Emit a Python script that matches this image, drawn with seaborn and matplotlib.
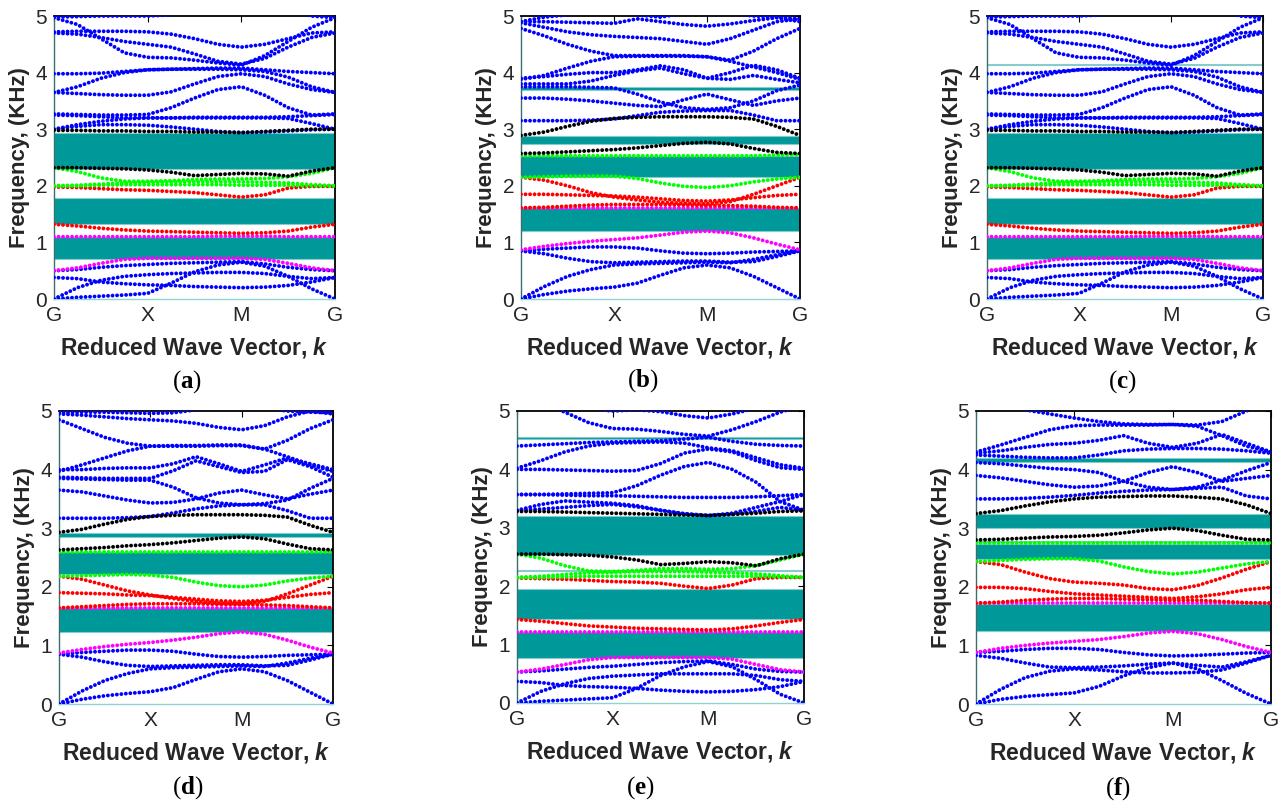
import matplotlib
matplotlib.use("Agg")
import matplotlib.pyplot as plt
import pandas as pd
import seaborn as sns

# ---------------- data ----------------
K = [0, 0.25, 0.5, 0.75, 1, 1.25, 1.5, 1.75, 2, 2.25, 2.5, 2.75, 3]
K_TICKS = [0, 1, 2, 3]
K_LABELS = ["G", "X", "M", "G"]
Y_TICKS = [0, 1, 2, 3, 4, 5]
PANEL_LABELS = ["a", "b", "c", "d", "e", "f"]

# ---- panel (a) / (c) ----
A_BLUE = [
    [0.00, 0.03, 0.05, 0.07, 0.10, 0.28, 0.48, 0.60, 0.65, 0.58, 0.40, 0.18, 0.00],
    [0.00, 0.20, 0.33, 0.40, 0.43, 0.45, 0.46, 0.47, 0.47, 0.45, 0.40, 0.36, 0.38],
    [0.38, 0.36, 0.30, 0.27, 0.25, 0.24, 0.22, 0.21, 0.20, 0.21, 0.24, 0.30, 0.38],
    [0.50, 0.52, 0.56, 0.59, 0.61, 0.63, 0.64, 0.65, 0.66, 0.62, 0.56, 0.52, 0.50],
    [3.00, 3.05, 3.08, 3.08, 3.07, 3.04, 3.00, 2.96, 2.94, 2.95, 2.97, 2.99, 3.00],
    [3.00, 3.08, 3.14, 3.18, 3.20, 3.20, 3.20, 3.20, 3.20, 3.20, 3.19, 3.10, 3.00],
    [3.27, 3.26, 3.25, 3.25, 3.26, 3.38, 3.55, 3.70, 3.75, 3.60, 3.38, 3.25, 3.27],
    [3.25, 3.24, 3.22, 3.20, 3.20, 3.20, 3.21, 3.21, 3.21, 3.21, 3.22, 3.24, 3.26],
    [3.65, 3.63, 3.61, 3.60, 3.60, 3.66, 3.80, 3.93, 3.98, 3.93, 3.80, 3.70, 3.65],
    [3.65, 3.75, 3.90, 4.00, 4.05, 4.06, 4.06, 4.06, 4.05, 4.02, 3.92, 3.75, 3.65],
    [3.98, 3.98, 3.99, 4.02, 4.05, 4.06, 4.07, 4.08, 4.08, 4.05, 4.02, 4.00, 3.98],
    [4.97, 4.85, 4.60, 4.35, 4.27, 4.26, 4.22, 4.17, 4.13, 4.30, 4.55, 4.80, 4.97],
    [4.70, 4.68, 4.62, 4.55, 4.50, 4.45, 4.33, 4.20, 4.15, 4.25, 4.45, 4.62, 4.70],
    [4.72, 4.73, 4.73, 4.73, 4.72, 4.68, 4.60, 4.50, 4.45, 4.50, 4.60, 4.70, 4.72],
    [4.98, 4.99, 5.00, 5.00, 5.00, 5.02, 5.10, 5.20, 5.25, 5.20, 5.10, 5.00, 4.97],
]
A_MAGENTA = [
    [0.50, 0.55, 0.63, 0.70, 0.72, 0.72, 0.72, 0.72, 0.72, 0.70, 0.63, 0.55, 0.50],
    [1.10, 1.10, 1.10, 1.10, 1.10, 1.10, 1.10, 1.11, 1.11, 1.11, 1.10, 1.10, 1.10],
]
A_RED = [
    [1.32, 1.29, 1.25, 1.22, 1.20, 1.19, 1.18, 1.17, 1.16, 1.17, 1.20, 1.27, 1.32],
    [1.98, 1.97, 1.95, 1.93, 1.92, 1.90, 1.88, 1.84, 1.80, 1.84, 1.96, 1.99, 1.99],
]
A_GREEN = [
    [2.00, 2.00, 2.01, 2.02, 2.02, 2.02, 2.02, 2.02, 2.01, 2.01, 2.01, 2.00, 2.00],
    [2.00, 2.01, 2.03, 2.05, 2.06, 2.07, 2.07, 2.07, 2.07, 2.06, 2.05, 2.02, 2.00],
    [2.32, 2.25, 2.14, 2.08, 2.08, 2.09, 2.11, 2.12, 2.12, 2.13, 2.16, 2.22, 2.32],
]
A_BLACK = [
    [2.32, 2.32, 2.31, 2.30, 2.28, 2.24, 2.18, 2.20, 2.22, 2.21, 2.17, 2.26, 2.32],
    [2.98, 2.98, 2.97, 2.97, 2.96, 2.96, 2.95, 2.95, 2.94, 2.96, 2.98, 3.00, 3.00],
]
A_GAPS = [(0.70, 1.10), (1.33, 1.79), (2.30, 2.93)]
C_GAPS = [(0.70, 1.10), (1.33, 1.79), (2.30, 2.93), (4.14, 4.16)]

# ---- panel (b) / (d) lower blue ----
B_BLUE_LOW = [
    [0.00, 0.08, 0.14, 0.18, 0.21, 0.28, 0.42, 0.55, 0.60, 0.55, 0.40, 0.20, 0.00],
    [0.00, 0.22, 0.40, 0.52, 0.60, 0.62, 0.63, 0.64, 0.65, 0.64, 0.70, 0.78, 0.85],
    [0.85, 0.80, 0.72, 0.66, 0.64, 0.65, 0.66, 0.67, 0.67, 0.65, 0.66, 0.75, 0.85],
    [0.85, 0.88, 0.90, 0.92, 0.92, 0.90, 0.85, 0.81, 0.80, 0.81, 0.83, 0.84, 0.85],
]
B_BLUE_HIGH = [
    [3.15, 3.15, 3.15, 3.16, 3.18, 3.24, 3.30, 3.32, 3.33, 3.33, 3.25, 3.15, 3.15],
    [3.55, 3.55, 3.53, 3.50, 3.46, 3.42, 3.40, 3.52, 3.62, 3.52, 3.42, 3.50, 3.55],
    [3.75, 3.75, 3.75, 3.74, 3.73, 3.62, 3.48, 3.38, 3.35, 3.38, 3.50, 3.68, 3.78],
    [3.80, 3.80, 3.80, 3.85, 3.95, 4.03, 4.08, 3.98, 3.90, 3.88, 3.95, 3.88, 3.82],
    [3.88, 3.95, 4.08, 4.20, 4.28, 4.29, 4.29, 4.29, 4.28, 4.20, 4.10, 4.00, 3.88],
    [3.90, 3.93, 3.97, 4.00, 4.00, 4.05, 4.12, 4.05, 3.90, 4.00, 4.13, 4.05, 3.90],
    [4.78, 4.65, 4.50, 4.38, 4.30, 4.30, 4.30, 4.30, 4.28, 4.22, 4.38, 4.60, 4.78],
    [4.88, 4.80, 4.72, 4.67, 4.64, 4.62, 4.60, 4.55, 4.50, 4.60, 4.75, 4.90, 4.95],
    [4.90, 4.90, 4.89, 4.88, 4.87, 4.95, 4.90, 4.85, 4.82, 4.86, 4.92, 4.97, 4.90],
    [4.90, 4.98, 5.02, 5.05, 5.05, 5.02, 4.98, 5.05, 5.10, 5.05, 5.00, 4.98, 4.95],
]
B_MAGENTA = [
    [0.87, 0.93, 0.98, 1.02, 1.05, 1.08, 1.13, 1.18, 1.20, 1.17, 1.08, 0.97, 0.87],
    [1.61, 1.61, 1.61, 1.61, 1.61, 1.61, 1.61, 1.61, 1.61, 1.61, 1.61, 1.61, 1.61],
]
B_RED = [
    [1.85, 1.85, 1.84, 1.83, 1.82, 1.80, 1.77, 1.74, 1.73, 1.75, 1.79, 1.83, 1.85],
    [2.15, 2.10, 2.00, 1.88, 1.80, 1.75, 1.71, 1.69, 1.68, 1.72, 1.85, 2.00, 2.15],
    [1.61, 1.62, 1.64, 1.66, 1.67, 1.67, 1.67, 1.66, 1.65, 1.65, 1.64, 1.62, 1.61],
]
B_GREEN = [
    [2.15, 2.16, 2.17, 2.17, 2.17, 2.13, 2.05, 1.99, 1.97, 2.00, 2.07, 2.12, 2.15],
    [2.53, 2.53, 2.53, 2.53, 2.53, 2.53, 2.53, 2.53, 2.53, 2.53, 2.53, 2.54, 2.55],
]
B_BLACK = [
    [2.57, 2.58, 2.60, 2.62, 2.64, 2.67, 2.71, 2.75, 2.77, 2.74, 2.66, 2.59, 2.57],
    [2.89, 2.95, 3.05, 3.14, 3.19, 3.21, 3.22, 3.22, 3.22, 3.21, 3.18, 3.05, 2.89],
]
B_GAPS = [(1.20, 1.60), (2.16, 2.52), (2.74, 2.88), (3.70, 3.75)]

# ---- panel (d) ----
D_BLUE_HIGH = [
    [3.17, 3.17, 3.17, 3.18, 3.20, 3.26, 3.33, 3.38, 3.40, 3.40, 3.30, 3.17, 3.17],
    [3.65, 3.62, 3.55, 3.48, 3.43, 3.44, 3.50, 3.60, 3.65, 3.57, 3.50, 3.58, 3.65],
    [3.85, 3.84, 3.83, 3.82, 3.82, 3.70, 3.52, 3.43, 3.40, 3.42, 3.48, 3.68, 3.85],
    [3.87, 3.86, 3.85, 3.85, 3.85, 3.98, 4.15, 4.05, 3.95, 3.97, 4.17, 4.05, 3.87],
    [3.97, 4.08, 4.20, 4.32, 4.40, 4.40, 4.40, 4.41, 4.41, 4.35, 4.22, 4.08, 3.97],
    [4.00, 4.00, 4.02, 4.03, 4.03, 4.10, 4.22, 4.10, 3.97, 4.08, 4.20, 4.10, 4.00],
    [4.85, 4.70, 4.55, 4.45, 4.40, 4.41, 4.41, 4.42, 4.42, 4.35, 4.50, 4.70, 4.85],
    [4.95, 4.93, 4.90, 4.87, 4.85, 4.83, 4.79, 4.72, 4.68, 4.75, 4.90, 5.00, 4.95],
    [4.97, 4.98, 4.98, 4.97, 4.96, 4.97, 5.02, 5.08, 5.10, 5.05, 5.00, 4.98, 4.97],
]
D_MAGENTA = [
    [0.87, 0.93, 0.98, 1.02, 1.05, 1.09, 1.14, 1.20, 1.23, 1.19, 1.09, 0.97, 0.87],
    [1.64, 1.64, 1.64, 1.64, 1.64, 1.64, 1.64, 1.64, 1.64, 1.64, 1.64, 1.64, 1.64],
]
D_RED = [
    [1.90, 1.89, 1.88, 1.86, 1.85, 1.82, 1.79, 1.76, 1.75, 1.77, 1.82, 1.87, 1.90],
    [2.18, 2.13, 2.03, 1.93, 1.86, 1.80, 1.75, 1.72, 1.71, 1.75, 1.88, 2.03, 2.18],
    [1.64, 1.66, 1.68, 1.70, 1.71, 1.71, 1.71, 1.70, 1.70, 1.69, 1.68, 1.66, 1.64],
]
D_GREEN = [
    [2.18, 2.19, 2.20, 2.21, 2.20, 2.16, 2.08, 2.02, 2.00, 2.03, 2.10, 2.15, 2.18],
    [2.60, 2.60, 2.60, 2.60, 2.60, 2.60, 2.60, 2.60, 2.60, 2.60, 2.60, 2.60, 2.60],
]
D_BLACK = [
    [2.63, 2.65, 2.67, 2.70, 2.72, 2.75, 2.79, 2.83, 2.85, 2.82, 2.73, 2.65, 2.63],
    [2.93, 2.98, 3.07, 3.15, 3.20, 3.22, 3.23, 3.23, 3.23, 3.22, 3.19, 3.05, 2.93],
]
D_GAPS = [(1.23, 1.64), (2.21, 2.59), (2.85, 2.91)]

# ---- panel (e) ----
E_BLUE = [
    [0.00, 0.03, 0.05, 0.07, 0.09, 0.25, 0.47, 0.62, 0.71, 0.62, 0.40, 0.15, 0.00],
    [0.00, 0.20, 0.33, 0.42, 0.46, 0.48, 0.50, 0.50, 0.50, 0.50, 0.47, 0.40, 0.37],
    [0.37, 0.35, 0.30, 0.28, 0.27, 0.25, 0.22, 0.20, 0.19, 0.20, 0.23, 0.28, 0.37],
    [0.53, 0.55, 0.58, 0.61, 0.63, 0.66, 0.69, 0.71, 0.72, 0.66, 0.58, 0.54, 0.53],
    [3.30, 3.32, 3.35, 3.38, 3.40, 3.36, 3.30, 3.24, 3.21, 3.23, 3.28, 3.35, 3.30],
    [3.57, 3.57, 3.56, 3.55, 3.55, 3.54, 3.53, 3.52, 3.52, 3.52, 3.53, 3.55, 3.57],
    [3.57, 3.57, 3.58, 3.59, 3.60, 3.72, 3.90, 4.05, 4.12, 4.00, 3.78, 3.45, 3.30],
    [3.30, 3.40, 3.46, 3.44, 3.42, 3.38, 3.30, 3.24, 3.21, 3.25, 3.35, 3.45, 3.57],
    [4.00, 4.00, 3.99, 3.98, 3.97, 3.98, 4.10, 4.28, 4.35, 4.30, 4.15, 4.03, 4.00],
    [4.02, 4.15, 4.30, 4.40, 4.45, 4.46, 4.47, 4.45, 4.37, 4.32, 4.20, 4.08, 4.02],
    [4.40, 4.42, 4.44, 4.46, 4.47, 4.48, 4.49, 4.52, 4.55, 4.48, 4.43, 4.41, 4.40],
    [5.30, 5.15, 4.98, 4.80, 4.70, 4.69, 4.65, 4.60, 4.57, 4.68, 4.82, 4.98, 5.10],
    [5.40, 5.25, 5.12, 5.04, 5.00, 5.02, 4.99, 4.92, 4.88, 4.95, 5.05, 5.15, 5.30],
]
E_MAGENTA = [
    [0.53, 0.58, 0.66, 0.74, 0.78, 0.78, 0.78, 0.78, 0.78, 0.75, 0.66, 0.57, 0.53],
    [1.21, 1.21, 1.21, 1.21, 1.21, 1.21, 1.21, 1.21, 1.21, 1.21, 1.21, 1.21, 1.21],
]
E_RED = [
    [1.43, 1.40, 1.36, 1.32, 1.30, 1.28, 1.27, 1.26, 1.25, 1.27, 1.32, 1.38, 1.43],
    [2.14, 2.13, 2.12, 2.10, 2.08, 2.07, 2.05, 2.00, 1.96, 2.02, 2.13, 2.15, 2.15],
]
E_GREEN = [
    [2.15, 2.15, 2.16, 2.17, 2.17, 2.17, 2.17, 2.17, 2.17, 2.17, 2.17, 2.16, 2.15],
    [2.15, 2.17, 2.20, 2.23, 2.24, 2.25, 2.25, 2.25, 2.24, 2.23, 2.21, 2.18, 2.15],
    [2.55, 2.48, 2.35, 2.26, 2.25, 2.27, 2.30, 2.30, 2.29, 2.30, 2.35, 2.45, 2.55],
]
E_BLACK = [
    [2.55, 2.55, 2.54, 2.53, 2.50, 2.45, 2.37, 2.39, 2.42, 2.40, 2.35, 2.47, 2.55],
    [3.28, 3.28, 3.27, 3.26, 3.25, 3.24, 3.23, 3.22, 3.21, 3.23, 3.25, 3.28, 3.29],
]
E_GAPS = [(0.77, 1.21), (1.43, 1.96), (2.26, 2.28), (2.54, 3.21), (4.52, 4.56)]

# ---- panel (f) ----
F_BLUE = [
    [0.00, 0.08, 0.13, 0.16, 0.19, 0.30, 0.48, 0.62, 0.70, 0.60, 0.40, 0.18, 0.00],
    [0.00, 0.25, 0.45, 0.56, 0.60, 0.58, 0.55, 0.53, 0.53, 0.54, 0.58, 0.70, 0.83],
    [0.83, 0.78, 0.70, 0.63, 0.62, 0.63, 0.65, 0.68, 0.70, 0.66, 0.63, 0.72, 0.83],
    [0.88, 0.90, 0.93, 0.95, 0.95, 0.93, 0.88, 0.84, 0.82, 0.83, 0.85, 0.87, 0.88],
    [3.50, 3.50, 3.51, 3.53, 3.56, 3.60, 3.63, 3.65, 3.66, 3.68, 3.70, 3.55, 3.50],
    [3.90, 3.86, 3.80, 3.74, 3.70, 3.72, 3.80, 3.95, 4.05, 3.95, 3.80, 3.85, 3.90],
    [4.12, 4.10, 4.06, 4.02, 4.00, 3.95, 3.80, 3.70, 3.66, 3.70, 3.82, 3.98, 4.12],
    [4.25, 4.23, 4.21, 4.20, 4.20, 4.25, 4.32, 4.35, 4.36, 4.36, 4.35, 4.32, 4.28],
    [4.28, 4.32, 4.38, 4.43, 4.45, 4.50, 4.58, 4.45, 4.38, 4.45, 4.60, 4.45, 4.30],
    [4.30, 4.42, 4.55, 4.68, 4.75, 4.76, 4.76, 4.76, 4.77, 4.74, 4.58, 4.40, 4.30],
    [5.40, 5.20, 5.02, 4.95, 4.88, 4.82, 4.78, 4.77, 4.77, 4.76, 4.82, 5.00, 5.20],
]
F_MAGENTA = [
    [0.88, 0.95, 1.00, 1.04, 1.07, 1.10, 1.15, 1.21, 1.24, 1.20, 1.10, 0.98, 0.88],
    [1.72, 1.72, 1.72, 1.72, 1.72, 1.72, 1.72, 1.72, 1.72, 1.72, 1.72, 1.72, 1.72],
]
F_RED = [
    [2.43, 2.38, 2.25, 2.14, 2.08, 2.06, 2.03, 1.97, 1.95, 2.02, 2.15, 2.30, 2.43],
    [1.99, 1.99, 1.97, 1.92, 1.88, 1.86, 1.84, 1.82, 1.80, 1.83, 1.88, 1.95, 1.99],
    [1.72, 1.74, 1.77, 1.79, 1.80, 1.80, 1.79, 1.78, 1.77, 1.77, 1.75, 1.73, 1.72],
]
F_GREEN = [
    [2.43, 2.45, 2.47, 2.48, 2.48, 2.44, 2.34, 2.26, 2.22, 2.25, 2.32, 2.39, 2.43],
    [2.75, 2.75, 2.75, 2.75, 2.75, 2.75, 2.75, 2.75, 2.75, 2.75, 2.75, 2.75, 2.75],
]
F_BLACK = [
    [2.80, 2.81, 2.83, 2.85, 2.86, 2.88, 2.92, 2.97, 3.00, 2.96, 2.88, 2.81, 2.80],
    [3.25, 3.30, 3.38, 3.45, 3.50, 3.53, 3.54, 3.55, 3.55, 3.53, 3.50, 3.40, 3.25],
]
F_GAPS = [(1.24, 1.71), (2.47, 2.73), (2.77, 2.78), (3.00, 3.24), (4.13, 4.19)]

# ---------------- styling ----------------
COLORS = {"blue": "#0000ff", "magenta": "#ff00ff", "red": "#ff0000",
          "green": "#00ff00", "black": "#000000"}
TEAL = "#009999"
TEAL_EDGE = "#86cccc"

PANELS = [
    {"curves": [("blue", A_BLUE), ("magenta", A_MAGENTA), ("red", A_RED),
                ("green", A_GREEN), ("black", A_BLACK)], "gaps": A_GAPS,
     "rect": (54, 16, 335, 299), "cap": (187, 382)},
    {"curves": [("blue", B_BLUE_LOW), ("blue", B_BLUE_HIGH), ("magenta", B_MAGENTA),
                ("red", B_RED), ("green", B_GREEN), ("black", B_BLACK)], "gaps": B_GAPS,
     "rect": (521, 16, 800, 299), "cap": (643, 381)},
    {"curves": [("blue", A_BLUE), ("magenta", A_MAGENTA), ("red", A_RED),
                ("green", A_GREEN), ("black", A_BLACK)], "gaps": C_GAPS,
     "rect": (987, 16, 1263, 299), "cap": (1122, 382)},
    {"curves": [("blue", B_BLUE_LOW), ("blue", D_BLUE_HIGH), ("magenta", D_MAGENTA),
                ("red", D_RED), ("green", D_GREEN), ("black", D_BLACK)], "gaps": D_GAPS,
     "rect": (59, 411, 333, 704), "cap": (188, 788)},
    {"curves": [("blue", E_BLUE), ("magenta", E_MAGENTA), ("red", E_RED),
                ("green", E_GREEN), ("black", E_BLACK)], "gaps": E_GAPS,
     "rect": (517, 411, 804, 703), "cap": (640, 788)},
    {"curves": [("blue", F_BLUE), ("magenta", F_MAGENTA), ("red", F_RED),
                ("green", F_GREEN), ("black", F_BLACK)], "gaps": F_GAPS,
     "rect": (976, 411, 1271, 704), "cap": (1118, 789)},
]

sns.set_style("white")
plt.rcParams["font.family"] = ["Liberation Sans", "DejaVu Sans"]
plt.rcParams["mathtext.fontset"] = "custom"
plt.rcParams["mathtext.it"] = "Liberation Sans:bold:italic"
plt.rcParams["mathtext.bf"] = "Liberation Serif:bold"
plt.rcParams["mathtext.rm"] = "Liberation Serif"

W, H = 1286, 807
fig = plt.figure(figsize=(W / 100, H / 100), dpi=100)

for label, spec in zip(PANEL_LABELS, PANELS):
    x0, y0, x1, y1 = spec["rect"]
    ax = fig.add_axes([x0 / W, 1 - y1 / H, (x1 - x0) / W, (y1 - y0) / H])
    for lo, hi in spec["gaps"]:
        ax.axhspan(lo, hi, facecolor=TEAL, edgecolor=TEAL_EDGE, lw=0.8, zorder=1)
    rows = []
    palette = {}
    for ci, (cname, clist) in enumerate(spec["curves"]):
        for i, vals in enumerate(clist):
            cid = f"{cname}_{ci}_{i}"
            palette[cid] = COLORS[cname]
            for k, v in zip(K, vals):
                rows.append((k, v, cid))
    df = pd.DataFrame(rows, columns=["k", "f", "curve"])
    sns.lineplot(data=df, x="k", y="f", hue="curve", palette=palette,
                 estimator=None, sort=False, legend=False, ax=ax,
                 lw=2.8, linestyle=(0, (0.01, 1.15)), dash_capstyle="round",
                 zorder=3)
    ax.set_xlim(0, 3)
    ax.set_ylim(0, 5)
    ax.set_xticks(K_TICKS)
    ax.set_xticklabels(K_LABELS)
    ax.set_yticks(Y_TICKS)
    ax.tick_params(direction="in", top=True, right=True, length=4, width=0.8,
                   labelsize=15, pad=5, colors="black")
    for t in ax.get_xticklabels() + ax.get_yticklabels():
        t.set_color("#262626")
    ax.set_xlabel("Reduced Wave Vector, $k$", fontsize=16.5, fontweight="bold",
                  color="#262626", labelpad=7)
    ax.set_ylabel("Frequency, (KHz)", fontsize=16, fontweight="bold",
                  color="#262626")
    ax.yaxis.set_label_coords(-24 / (x1 - x0), 0.5)
    for s in ["top", "right"]:
        ax.spines[s].set_color("black")
        ax.spines[s].set_linewidth(1.3)
    ax.spines["left"].set_color("#3a6f6f")
    ax.spines["left"].set_linewidth(1.0)
    ax.spines["bottom"].set_color("#8fd3d3")
    ax.spines["bottom"].set_linewidth(1.0)
    cx, cy = spec["cap"]
    fig.text(cx / W, 1 - cy / H, "(" + r"$\mathbf{" + label + "}$" + ")",
             fontsize=18, family="Liberation Serif", ha="center", va="center",
             color="black")

fig.savefig("out.png", dpi=100)
